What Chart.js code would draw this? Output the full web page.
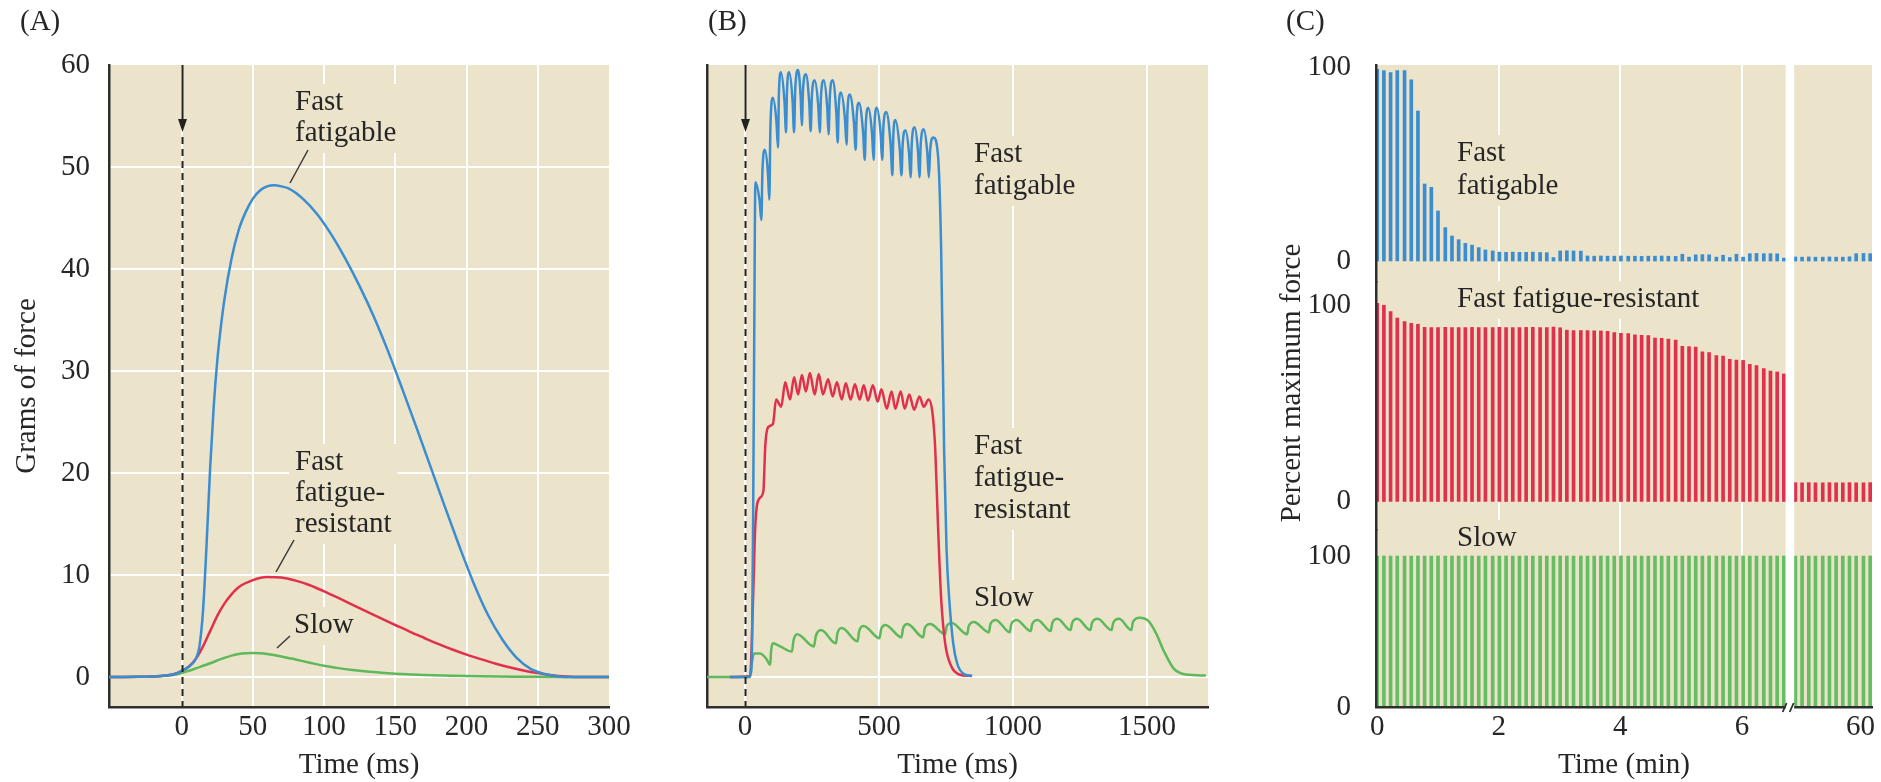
<!DOCTYPE html>
<html>
<head>
<meta charset="utf-8">
<title>Motor unit force</title>
<script src="https://cdn.jsdelivr.net/npm/chart.js@4.4.0/dist/chart.umd.min.js"></script>
<style>
  body { margin: 0; background: #fff; }
  #fig { position: relative; width: 1881px; height: 782px; }
  #fig canvas { position: absolute; top: 0; }
</style>
</head>
<body>
<div id="fig">
  <canvas id="panelA" width="640" height="782" style="left:0px"></canvas>
  <canvas id="panelB" width="620" height="782" style="left:640px"></canvas>
  <canvas id="panelC" width="621" height="782" style="left:1260px"></canvas>
</div>
<script>
// ---- (A) single twitch: [time (ms), force (g)] ----
const twitchFastFatigable = [[-51, 0], [-30, 0.02], [-15, 0.1], [-5, 0.3], [0, 0.6], [5, 1.0], [10, 1.8],
  [12.5, 3], [15, 6.5], [17.5, 13], [20, 20.5], [22.5, 26.5], [25, 31], [27.5, 34.3], [30, 37], [35, 41],
  [40, 43.8], [45, 45.6], [50, 46.9], [55, 47.7], [60, 48.1], [65, 48.2], [70, 48.1], [75, 47.9],
  [85, 46.9], [95, 45.4], [105, 43.4], [115, 41.0], [125, 38.3], [135, 35.3], [145, 31.9], [155, 28.2],
  [165, 24.4], [175, 20.5], [185, 16.6], [195, 12.8], [205, 9.2], [215, 6.1], [225, 3.7], [235, 1.9],
  [245, 0.8], [255, 0.3], [265, 0.05], [275, 0], [300, 0]];
const twitchFatigueResistant = [[-51, 0], [-30, 0.02], [-15, 0.1], [-5, 0.3], [0, 0.6], [5, 1.0], [10, 1.8],
  [15, 3.0], [20, 4.5], [25, 6.0], [30, 7.2], [35, 8.1], [40, 8.8], [50, 9.5], [60, 9.8], [70, 9.75],
  [80, 9.45], [90, 9.0], [100, 8.4], [110, 7.75], [120, 7.08], [130, 6.4], [140, 5.74], [150, 5.1],
  [160, 4.46], [170, 3.85], [180, 3.25], [190, 2.7], [200, 2.2], [210, 1.75], [220, 1.33], [230, 0.96],
  [240, 0.64], [250, 0.38], [260, 0.18], [270, 0.06], [280, 0], [300, 0]];
const twitchSlow = [[-51, 0], [-30, 0.02], [-15, 0.08], [-5, 0.22], [0, 0.4], [5, 0.6], [10, 0.85],
  [15, 1.1], [20, 1.35], [25, 1.62], [30, 1.88], [35, 2.1], [40, 2.25], [45, 2.33], [50, 2.35], [55, 2.32],
  [60, 2.25], [70, 2.02], [80, 1.72], [90, 1.4], [100, 1.1], [110, 0.87], [120, 0.68], [130, 0.53],
  [140, 0.42], [150, 0.33], [170, 0.2], [190, 0.12], [210, 0.07], [240, 0.03], [270, 0], [300, 0]];

// ---- (B) tetanic contraction: [time (ms), force (g)] ----
const tetanusFastFatigable = [[-55, 0], [12, 0], [21, 0.3], [26, 3], [30, 15], [34, 32], [38.6, 48.5],
  [54.2, 46.7], [60.9, 44.8], [64.9, 49.6], [74.3, 51.7], [85.7, 49.3], [90.6, 46.8], [94.6, 53.8],
  [104, 56.8], [117.3, 54.4], [123, 51.9], [126.3, 57.1], [134, 59.3], [147.3, 56.4], [153, 53.4],
  [156.6, 57.5], [165, 59.3], [177.6, 56.4], [183, 53.4], [187.5, 57.7], [198, 59.5], [207.8, 56.8],
  [212, 54.1], [216.5, 57.6], [227, 59.1], [239.6, 56.3], [245, 53.5], [249.5, 57.0], [260, 58.5],
  [273.3, 56.0], [279, 53.4], [283.5, 57.0], [294, 58.5], [306.6, 55.9], [312, 53.2], [316.5, 56.9],
  [327, 58.5], [340.3, 55.5], [346, 52.4], [349.6, 55.8], [358, 57.3], [372.7, 54.8], [379, 52.2],
  [382.6, 55.6], [391, 57.1], [406.4, 54.4], [413, 51.7], [416.6, 54.9], [425, 56.3], [440.4, 53.5],
  [447, 50.7], [450.9, 54.3], [460, 55.8], [474, 53.3], [480, 50.7], [483.6, 54.3], [492, 55.8],
  [506, 53.3], [512, 50.7], [516.5, 54.0], [527, 55.4], [543.1, 52.3], [550, 49.2], [553.3, 53.0],
  [561, 54.6], [577.1, 51.9], [584, 49.2], [588.5, 52.3], [599, 53.6], [612.3, 51.3], [618, 49.0],
  [622.5, 52.4], [633, 53.9], [645.6, 51.5], [651, 49.0], [655.8, 52.3], [667, 53.7], [680.3, 51.4],
  [686, 49.0], [691.1, 51.7], [703, 52.9], [720, 51.2], [732, 41.9], [743, 22.3], [752, 12.6], [762, 7.7],
  [777, 3.3], [792, 1.3], [814, 0.35], [848, 0.1]];
const tetanusFatigueResistant = [[-55, 0], [19, 0.1], [30, 7.7], [38.6, 15.0], [53.5, 17.5], [68.3, 18.2],
  [75.8, 22.8], [86, 24.5], [104, 24.8], [116, 27.2], [135, 26.5], [150, 28.9], [168, 27.2], [183, 29.4],
  [198, 27.7], [212, 29.6], [227, 28.0], [242, 29.8], [260, 27.7], [275, 29.7], [291, 27.7], [310, 29.2],
  [327, 27.5], [343, 28.9], [361, 27.2], [376, 28.8], [394, 27.2], [410, 28.7], [428, 27.2], [443, 28.6],
  [459, 27.1], [477, 28.6], [495, 27.0], [509, 28.2], [529, 26.3], [547, 28.0], [561, 26.3], [581, 28.0],
  [596, 26.3], [613, 27.7], [631, 26.2], [651, 27.5], [667, 26.5], [685, 27.2], [700, 25.8], [710, 22.3],
  [720, 15.0], [732, 7.7], [747, 3.3], [769, 1.1], [799, 0.25], [844, 0.1]];
const tetanusSlow = [[-144, 0], [19, 0], [25, 1.3], [34, 2.3], [56, 2.3], [79, 1.8], [94, 1.2], [97, 2.5],
  [104, 3.3], [131, 3.0], [175, 2.5], [181, 3.6], [195, 4.2], [257, 3.0], [264, 4.0], [284, 4.6],
  [339, 3.3], [345, 4.3], [361, 4.8], [420, 3.5], [426, 4.5], [443, 5.0], [502, 3.8], [508, 4.7],
  [524, 5.1], [584, 3.9], [590, 4.8], [606, 5.2], [665, 3.9], [671, 4.8], [691, 5.2], [747, 4.2],
  [753, 5.0], [772, 5.3], [829, 4.2], [835, 5.0], [854, 5.4], [910, 4.4], [916, 5.2], [936, 5.6],
  [988, 4.4], [994, 5.2], [1014, 5.6], [1066, 4.5], [1072, 5.2], [1092, 5.6], [1141, 4.5], [1147, 5.3],
  [1166, 5.7], [1215, 4.6], [1221, 5.3], [1240, 5.7], [1289, 4.6], [1295, 5.3], [1316, 5.7], [1368, 4.6],
  [1374, 5.3], [1396, 5.7], [1442, 4.6], [1448, 5.4], [1472, 5.8], [1505, 5.5], [1534, 4.3], [1564, 2.5],
  [1601, 0.8], [1646, 0.25], [1720, 0.15]];

// ---- (C) repeated stimulus trains: time (min), percent of maximum force ----
const trainTimes = [0, 0.11, 0.22, 0.33, 0.45, 0.56, 0.67, 0.78, 0.89, 1.00, 1.12, 1.23, 1.34, 1.45, 1.56,
  1.67, 1.78, 1.90, 2.01, 2.12, 2.23, 2.34, 2.45, 2.56, 2.68, 2.79, 2.90, 3.01, 3.12, 3.23, 3.35, 3.46,
  3.57, 3.68, 3.79, 3.90, 4.01, 4.13, 4.24, 4.35, 4.46, 4.57, 4.68, 4.79, 4.91, 5.02, 5.13, 5.24, 5.35,
  5.46, 5.58, 5.69, 5.80, 5.91, 6.02, 6.13, 6.24, 6.36, 6.47, 6.58, 6.69];
const lateTrainTimes = [58.93, 59.04, 59.15, 59.26, 59.38, 59.49, 59.60, 59.71, 59.82, 59.93, 60.05, 60.16];

const percentFastFatigable = [98.8, 98.1, 97.1, 98.1, 98.1, 93.3, 77.3, 39.7, 38.0, 25.8, 17.2, 12.9, 11.0,
  9.1, 8.2, 6.9, 5.7, 5.2, 4.6, 4.5, 4.6, 4.5, 4.5, 4.6, 4.4, 4.3, 1.8, 5.2, 5.3, 5.2, 5.1, 2.6, 2.5, 2.6,
  2.5, 2.5, 2.6, 2.5, 2.5, 2.4, 2.5, 2.5, 2.6, 2.5, 2.4, 3.5, 2.0, 3.2, 3.3, 3.2, 2.0, 3.0, 1.8, 3.5, 2.0,
  3.8, 3.9, 3.8, 3.8, 3.7, 1.5];
const lateFastFatigable = [2.1, 2.0, 2.1, 2.0, 2.0, 2.1, 2.0, 2.0, 2.2, 3.8, 3.9, 3.8];

const percentFatigueResistant = [100.9, 99.9, 96.6, 93.3, 91.5, 90.7, 90.2, 88.6, 88.5, 88.5, 88.6, 88.5,
  88.5, 88.5, 88.6, 88.5, 88.5, 88.5, 88.6, 88.5, 88.5, 88.5, 88.6, 88.6, 88.5, 88.5, 88.7, 88.4, 87.2,
  87.0, 87.0, 87.0, 86.8, 86.8, 86.6, 86.0, 85.6, 85.4, 84.8, 84.6, 84.4, 83.2, 83.0, 82.6, 82.2, 79.0,
  78.8, 78.6, 76.2, 75.8, 74.2, 74.0, 72.4, 72.0, 71.8, 69.8, 69.2, 67.6, 66.4, 65.9, 64.9];
const lateFatigueResistant = [9.6, 9.5, 9.6, 9.5, 9.5, 9.6, 9.5, 9.5, 9.6, 9.5, 9.5, 9.6];

const percentSlow = [100, 100, 100, 100, 100, 100, 100, 100, 100, 100,
  100, 100, 100, 100, 100, 100, 100, 100, 100, 100,
  100, 100, 100, 100, 100, 100, 100, 100, 100, 100,
  100, 100, 100, 100, 100, 100, 100, 100, 100, 100,
  100, 100, 100, 100, 100, 100, 100, 100, 100, 100,
  100, 100, 100, 100, 100, 100, 100, 100, 100, 100, 100];
const lateSlow = [100, 100, 100, 100, 100, 100, 100, 100, 100, 100, 100, 100];

// ---- tick labels ----
const xTicksA = [0, 50, 100, 150, 200, 250, 300];
const yTicksA = [0, 10, 20, 30, 40, 50, 60];
const xTicksB = [0, 500, 1000, 1500];
const xTicksC = [0, 2, 4, 6, 60];
const percentTicks = [0, 100];

// the (C) time axis is broken between ~6.7 min and the last hour
const BREAK_AT = 10;          // min; anything later sits right of the break
const BREAK_SHIFT = 52.05;    // min removed from the axis at the break
const BREAK_GAP = [6.72, 6.86];
const toAxisMin = t => (t > BREAK_AT ? t - BREAK_SHIFT : t);

// ---- styling ----
const BEIGE = '#ece3cb';
const GRID = '#ffffff';
const AXIS = '#2e2e2e';
const INK = '#262626';
const BLUE = '#3a8dd0';
const RED = '#e0304e';
const GREEN = '#5db95a';
const GREEN_BAR = '#67bd64';
const NONE = 'rgba(0,0,0,0)';
const FAMILY = '"Liberation Serif", "Times New Roman", serif';
const FONT = { family: FAMILY, size: 29, lineHeight: 1 };
const CSS_FONT = '29px ' + FAMILY;

Chart.defaults.font.family = FAMILY;
Chart.defaults.color = INK;

const pairs = list => list.map(([x, y]) => ({ x, y }));
const fixedTicks = values => scale => { scale.ticks = values.map(v => ({ value: v })); };

// beige plot area, label boxes, labels, stimulus arrow and axis break
const decor = {
  id: 'decor',
  beforeDraw(chart) {
    const { ctx, chartArea: a } = chart;
    ctx.save();
    ctx.fillStyle = BEIGE;
    ctx.fillRect(a.left, a.top, a.right - a.left, a.bottom - a.top);
    ctx.restore();
  },
  beforeDatasetsDraw(chart, args, o) {
    const ctx = chart.ctx;
    ctx.save();
    ctx.font = CSS_FONT;
    ctx.fillStyle = BEIGE;
    (o.labels || []).forEach(l => {
      const w = Math.max(...l.lines.map(s => ctx.measureText(s).width));
      const last = l.y + o.lineStep * (l.lines.length - 1);
      ctx.fillRect(l.x - 6, l.y - 26, w + 12, last - l.y + 38);
    });
    ctx.restore();
  },
  afterDatasetsDraw(chart, args, o) {
    const { ctx, chartArea: a, scales } = chart;
    ctx.save();

    if (o.arrow) {
      const x0 = Math.round(scales.x.getPixelForValue(0)) + 0.5;
      ctx.strokeStyle = '#222';
      ctx.fillStyle = '#222';
      ctx.lineWidth = 2;
      ctx.beginPath();
      ctx.moveTo(x0, a.top); ctx.lineTo(x0, a.top + 56);
      ctx.stroke();
      ctx.beginPath();
      ctx.moveTo(x0 - 4.5, a.top + 54); ctx.lineTo(x0 + 4.5, a.top + 54); ctx.lineTo(x0, a.top + 67);
      ctx.closePath();
      ctx.fill();
      ctx.setLineDash([7, 5]);
      ctx.beginPath();
      ctx.moveTo(x0, a.top + 72); ctx.lineTo(x0, a.bottom);
      ctx.stroke();
      ctx.setLineDash([]);
    }

    ctx.strokeStyle = '#3a3a3a';
    ctx.lineWidth = 1.5;
    (o.leaders || []).forEach(([x1, y1, x2, y2]) => {
      ctx.beginPath(); ctx.moveTo(x1, y1); ctx.lineTo(x2, y2); ctx.stroke();
    });

    ctx.font = CSS_FONT;
    ctx.fillStyle = INK;
    ctx.textAlign = 'left';
    ctx.textBaseline = 'alphabetic';
    (o.labels || []).forEach(l => {
      l.lines.forEach((s, i) => ctx.fillText(s, l.x, l.y + o.lineStep * i));
    });
    ctx.fillText(o.letter, o.letterX, 30);

    if (o.yTitle) {
      ctx.translate(o.yTitle.x, o.yTitle.y);
      ctx.rotate(-Math.PI / 2);
      ctx.textAlign = 'center';
      ctx.textBaseline = 'middle';
      ctx.fillText(o.yTitle.text, 0, 0);
    }
    ctx.restore();
  },
  afterDraw(chart, args, o) {
    if (!o.gap) return;
    // white break through the plot and the "//" mark on the time axis
    const { ctx, chartArea: a, scales } = chart;
    const g0 = scales.x.getPixelForValue(o.gap[0]);
    const g1 = scales.x.getPixelForValue(o.gap[1]);
    ctx.save();
    ctx.fillStyle = '#ffffff';
    ctx.fillRect(g0, a.top, g1 - g0, a.bottom - a.top + 3);
    ctx.strokeStyle = AXIS;
    ctx.lineWidth = 1.8;
    ctx.beginPath();
    ctx.moveTo(g0 - 3, a.bottom + 5); ctx.lineTo(g0 + 1, a.bottom - 4);
    ctx.moveTo(g0 + 4, a.bottom + 5); ctx.lineTo(g0 + 8, a.bottom - 4);
    ctx.stroke();
    ctx.restore();
  }
};

function timeAxis(min, max, ticks, title, gridOn, extra) {
  return Object.assign({
    type: 'linear', min, max, bounds: 'data', offset: false,
    afterBuildTicks: fixedTicks(ticks),
    afterFit: s => { s.height = 75; },
    grid: { color: c => (gridOn(c.tick.value) ? GRID : NONE), lineWidth: 2, drawTicks: false, offset: false },
    border: { color: AXIS, width: 2.5, z: 1 },
    ticks: { padding: 6, font: FONT, color: INK, maxRotation: 0, autoSkip: false, callback: v => String(v) },
    title: { display: true, text: title, font: FONT, color: INK, padding: { top: 0, bottom: 2.5 } }
  }, extra || {});
}

const baseOptions = {
  responsive: false, animation: false, devicePixelRatio: 1,
  events: []
};
const lineStyle = { borderWidth: 2.5, pointRadius: 0, cubicInterpolationMode: 'monotone', fill: false };

// (A) single twitch
new Chart(document.getElementById('panelA'), {
  type: 'line',
  data: {
    datasets: [
      Object.assign({ data: pairs(twitchFastFatigable), borderColor: BLUE }, lineStyle),
      Object.assign({ data: pairs(twitchFatigueResistant), borderColor: RED }, lineStyle),
      Object.assign({ data: pairs(twitchSlow), borderColor: GREEN }, lineStyle)
    ]
  },
  options: Object.assign({}, baseOptions, {
    layout: { padding: { top: 65, right: 31, bottom: 0, left: 0 } },
    plugins: {
      legend: { display: false }, tooltip: { enabled: false },
      decor: {
        letter: '(A)', letterX: 20, arrow: true, lineStep: 31,
        labels: [
          { x: 295, y: 110, lines: ['Fast', 'fatigable'] },
          { x: 295, y: 470, lines: ['Fast', 'fatigue-', 'resistant'] },
          { x: 294, y: 633, lines: ['Slow'] }
        ],
        leaders: [[308, 150, 290, 183], [294, 540, 276, 572], [290, 636, 277, 648]]
      }
    },
    scales: {
      x: timeAxis(-51, 300, xTicksA, 'Time (ms)', v => v < 300),
      y: {
        type: 'linear', min: -2.94, max: 60, bounds: 'data',
        afterBuildTicks: fixedTicks(yTicksA),
        afterFit: s => { s.width = 109; },
        grid: { color: c => (c.tick.value < 60 ? GRID : NONE), lineWidth: 2, drawTicks: false },
        border: { color: AXIS, width: 2.5 },
        ticks: { padding: 19, font: FONT, color: INK, autoSkip: false, callback: v => String(v) },
        title: { display: true, text: 'Grams of force', font: FONT, color: INK, padding: { top: 12.5, bottom: 0 } }
      }
    }
  }),
  plugins: [decor]
});

// (B) tetanus
new Chart(document.getElementById('panelB'), {
  type: 'line',
  data: {
    datasets: [
      Object.assign({ data: pairs(tetanusFastFatigable), borderColor: BLUE }, lineStyle),
      Object.assign({ data: pairs(tetanusFatigueResistant), borderColor: RED }, lineStyle),
      Object.assign({ data: pairs(tetanusSlow), borderColor: GREEN }, lineStyle)
    ]
  },
  options: Object.assign({}, baseOptions, {
    layout: { padding: { top: 65, right: 52, bottom: 0, left: 0 } },
    plugins: {
      legend: { display: false }, tooltip: { enabled: false },
      decor: {
        letter: '(B)', letterX: 68, arrow: true, lineStep: 32,
        labels: [
          { x: 334, y: 162, lines: ['Fast', 'fatigable'] },
          { x: 334, y: 454, lines: ['Fast', 'fatigue-', 'resistant'] },
          { x: 334, y: 606, lines: ['Slow'] }
        ]
      }
    },
    scales: {
      x: timeAxis(-142, 1728, xTicksB, 'Time (ms)', () => true),
      y: {
        type: 'linear', min: -2.94, max: 60, bounds: 'data',
        afterBuildTicks: fixedTicks([0]),
        afterFit: s => { s.width = 67; },
        grid: { color: GRID, lineWidth: 2, drawTicks: false },
        border: { color: AXIS, width: 2.5 },
        ticks: { display: false }
      }
    }
  }),
  plugins: [decor]
});

// (C) fatigue over repeated trains: three rows sharing one time axis
const bars = (times, values) => times.map((t, i) => ({ x: toAxisMin(t), y: values[i] }));
function percentAxis(min, max, stackWeight, weight) {
  return {
    type: 'linear', position: 'left', stack: 'rows', stackWeight, weight, min, max, bounds: 'data',
    afterBuildTicks: fixedTicks(percentTicks),
    afterFit: s => { s.width = 116; },
    grid: { display: false },
    border: { color: AXIS, width: 2.5, z: 1 },
    ticks: { padding: 17, font: FONT, color: INK, autoSkip: false, callback: v => String(v) }
  };
}

new Chart(document.getElementById('panelC'), {
  type: 'bar',
  data: {
    datasets: [
      { data: bars(trainTimes, percentFastFatigable).concat(bars(lateTrainTimes, lateFastFatigable)),
        yAxisID: 'yFast', backgroundColor: BLUE },
      { data: bars(trainTimes, percentFatigueResistant).concat(bars(lateTrainTimes, lateFatigueResistant)),
        yAxisID: 'yResistant', backgroundColor: RED },
      { data: bars(trainTimes, percentSlow).concat(bars(lateTrainTimes, lateSlow)),
        yAxisID: 'ySlow', backgroundColor: GREEN_BAR }
    ]
  },
  options: Object.assign({}, baseOptions, {
    datasets: { bar: { grouped: false, barThickness: 3, borderWidth: 0 } },
    layout: { padding: { top: 65, right: 3, bottom: 0, left: 0 } },
    plugins: {
      legend: { display: false }, tooltip: { enabled: false },
      decor: {
        letter: '(C)', letterX: 26, lineStep: 33, gap: BREAK_GAP,
        labels: [
          { x: 197, y: 161, lines: ['Fast', 'fatigable'] },
          { x: 197, y: 307, lines: ['Fast fatigue-resistant'] },
          { x: 197, y: 546, lines: ['Slow'] }
        ],
        yTitle: { text: 'Percent maximum force', x: 32, y: 383 }
      }
    },
    scales: {
      x: timeAxis(-0.02, 8.14, xTicksC.map(toAxisMin), 'Time (min)', v => v > 1 && v < 7, {
        ticks: { padding: 6, font: FONT, color: INK, maxRotation: 0, autoSkip: false,
                 callback: (v, i) => String(xTicksC[i]) }
      }),
      yFast: percentAxis(-10.8, 101, 217, 3),
      yResistant: percentAxis(-14.5, 111.7, 248, 2),
      ySlow: percentAxis(0, 117.2, 177, 1)
    }
  }),
  plugins: [decor]
});
</script>
</body>
</html>
